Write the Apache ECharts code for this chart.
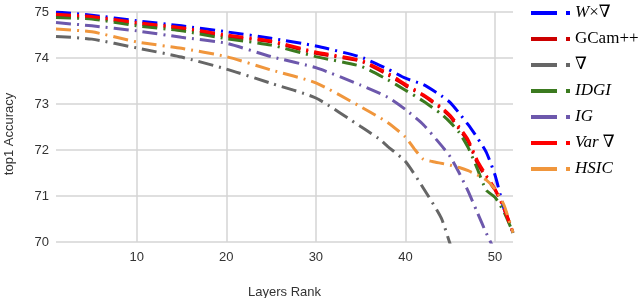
<!DOCTYPE html>
<html>
<head>
<meta charset="utf-8">
<script src="https://cdn.jsdelivr.net/npm/echarts@6/dist/echarts.min.js"></script>
<style>html,body{margin:0;padding:0;background:#fff;}#c{width:638px;height:298px;}</style>
</head>
<body>
<div id="c"></div>
<script>
const seriesNames = ['W×∇', 'GCam++', '∇', 'IDGI', 'IG', 'Var ∇', 'HSIC'];
const seriesColors = ['#0000ff', '#cc0000', '#666666', '#3b7a1f', '#6d58ac', '#ff0000', '#f0963c'];
const yTicks = [70, 71, 72, 73, 74, 75];
const xTickLabels = [10, 20, 30, 40, 50];

const wGrad = [[1,75.0],[5,74.93],[10,74.81],[15,74.70],[20,74.57],[25,74.43],[30,74.26],[35,74.02],[38,73.76],[40,73.56],[42,73.42],[44,73.18],[45,73.03],[46,72.8],[47,72.55],[48,72.27],[49,71.96],[50,71.45],[51,70.72],[52,70.2]];
const gcam = [[1,74.92],[5,74.88],[10,74.74],[15,74.64],[20,74.47],[25,74.35],[30,74.10],[35,73.93],[38,73.64],[40,73.4],[42,73.18],[44,72.9],[45,72.72],[46,72.45],[47,72.18],[48,71.72],[49,71.4],[50,71.13],[51,70.75],[52,70.2]];
const grad = [[1,74.47],[5,74.41],[10,74.22],[15,74.02],[20,73.76],[25,73.45],[30,73.13],[35,72.51],[37,72.25],[38,72.08],[40,71.75],[42,71.17],[44,70.52],[45,69.95],[46,69.5]];
const idgi = [[1,74.88],[5,74.85],[10,74.70],[15,74.59],[20,74.42],[25,74.28],[30,74.03],[35,73.82],[38,73.53],[40,73.3],[42,73.06],[44,72.78],[45,72.6],[46,72.38],[47,72.05],[48,71.6],[49,71.13],[50,70.97],[51,70.65],[52,70.2]];
const ig = [[1,74.77],[5,74.70],[10,74.59],[15,74.45],[20,74.32],[25,74.03],[30,73.79],[35,73.41],[38,73.15],[40,72.88],[42,72.55],[44,72.1],[45,71.85],[46,71.5],[47,71.1],[48,70.65],[49,70.2],[50,69.8]];
const varGrad = [[1,74.95],[5,74.9],[10,74.77],[15,74.66],[20,74.5],[25,74.37],[30,74.13],[35,73.95],[38,73.67],[40,73.43],[42,73.2],[44,72.93],[45,72.75],[46,72.5],[47,72.22],[48,71.78],[49,71.45],[50,71.15],[51,70.72],[52,70.2]];
const hsic = [[1,74.63],[5,74.57],[10,74.35],[15,74.21],[20,74.03],[25,73.74],[30,73.46],[35,72.94],[38,72.6],[40,72.28],[41,72.02],[42,71.8],[43,71.75],[44,71.71],[45,71.67],[46,71.62],[47,71.55],[48,71.46],[49,71.35],[50,71.15],[51,70.8],[52,70.2]];
const seriesData = [wGrad, gcam, grad, idgi, ig, varGrad, hsic];

const richLabels = {
  'W×∇': '{i|W}{n|×∇}',
  'GCam++': '{n|GCam++}',
  '∇': '{n|∇}',
  'IDGI': '{i|IDGI}',
  'IG': '{i|IG}',
  'Var ∇': '{i|Var}{n| ∇}',
  'HSIC': '{i|HSIC}'
};

const chart = echarts.init(document.getElementById('c'), null, {renderer: 'canvas'});
const serif = "'Liberation Serif', 'DejaVu Serif', serif";
const sans = "'Liberation Sans', Arial, sans-serif";
chart.setOption({
  animation: false,
  backgroundColor: '#fff',
  grid: {left: 56, right: 125, top: 12, bottom: 56, containLabel: false, outerBoundsMode: 'none'},
  xAxis: {
    type: 'value', min: 1, max: 52, splitNumber: 5,
    name: 'Layers Rank', nameLocation: 'middle', nameGap: 44,
    nameTextStyle: {fontFamily: sans, fontSize: 13, color: '#333'},
    axisLine: {show: false}, axisTick: {show: false},
    axisLabel: {fontFamily: sans, fontSize: 13, color: '#333', margin: 9, showMinLabel: false, showMaxLabel: false,
      formatter: v => xTickLabels.includes(v) ? String(v) : ''},
    splitLine: {show: true, showMinLine: false, showMaxLine: false, lineStyle: {color: '#d4d4d4', width: 1.5}}
  },
  yAxis: {
    type: 'value', min: yTicks[0], max: yTicks[yTicks.length - 1], interval: 1,
    axisLine: {show: false}, axisTick: {show: false},
    axisLabel: {fontFamily: sans, fontSize: 13, color: '#333', margin: 7},
    splitLine: {show: true, lineStyle: {color: '#d4d4d4', width: 1.5}}
  },
  graphic: [{
    type: 'text', x: 9, y: 134, rotation: Math.PI / 2,
    style: {text: 'top1 Accuracy', font: "13px 'Liberation Sans', Arial, sans-serif", fill: '#333', textAlign: 'center', textVerticalAlign: 'middle'}
  }],
  legend: {
    orient: 'vertical', left: 531, top: 4, itemGap: 8, padding: 0,
    itemWidth: 39, itemHeight: 4,
    icon: 'path://M0 0H26V4H0Z M35 0H39V4H35Z',
    itemStyle: {borderWidth: 0},
    data: seriesNames,
    formatter: name => richLabels[name],
    textStyle: {
      fontFamily: serif, fontSize: 17, color: '#000', lineHeight: 18, padding: [0, 0, 0, 0],
      rich: {
        i: {fontFamily: serif, fontSize: 17, fontStyle: 'italic', color: '#000', lineHeight: 18},
        n: {fontFamily: serif, fontSize: 17, color: '#000', lineHeight: 18}
      }
    }
  },
  series: seriesNames.map((n, k) => ({
    name: n, type: 'line', data: seriesData[k], showSymbol: false, symbol: 'none',
    smooth: 0.2, clip: true,
    itemStyle: {color: seriesColors[k]},
    lineStyle: {color: seriesColors[k], width: 3, type: [15, 6, 2, 6]}
  }))
});
</script>
</body>
</html>
